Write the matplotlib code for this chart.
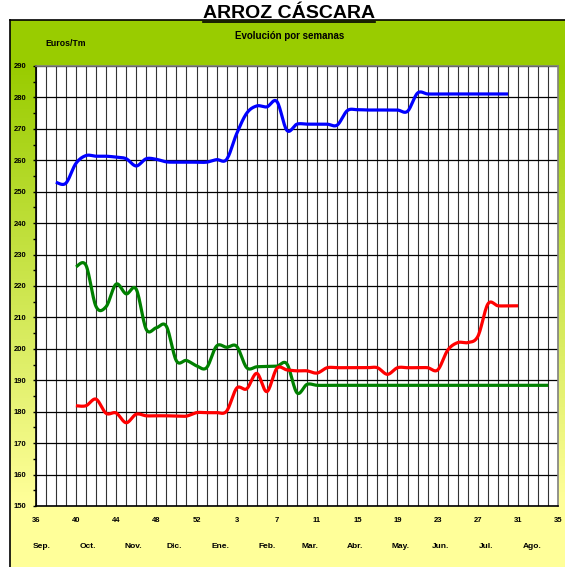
#Weekly paddy rice prices (Euros/Tm), three series, Excel-style chart.
import numpy as np
import matplotlib.pyplot as plt
import matplotlib.transforms as mtransforms
from matplotlib.lines import Line2D

plt.rcParams['font.family'] = ['Liberation Sans', 'DejaVu Sans']
plt.rcParams['font.weight'] = 'bold'

#Week labels along the x axis (campaign from week 36 to week 35, 53-week year).
weeks = list(range(36, 54)) + list(range(1, 36))
week_ticks = [36, 40, 44, 48, 52, 3, 7, 11, 15, 19, 23, 27, 31, 35]
months = ['Sep.', 'Oct.', 'Nov.', 'Dic.', 'Ene.', 'Feb.', 'Mar.', 'Abr.',
          'May.', 'Jun.', 'Jul.', 'Ago.']
month_pos = [0.6, 5.2, 9.7, 13.8, 18.4, 23.0, 27.3, 31.8, 36.3, 40.3, 44.8, 49.4]

#Series values, one per week, starting at the given week index.
blue_start = 2
blue = [253, 252.7, 259, 261.5, 261.3, 261.3, 261, 260.5, 258.2, 260.5,
        260.3, 259.5, 259.4, 259.4, 259.4, 259.4, 260.2, 260.3, 268.5, 275,
        277.3, 277, 278.7, 269.5, 271.5, 271.5, 271.5, 271.5, 271.2, 275.8,
        276.1, 276, 276, 276, 276, 275.6, 281.4, 281.1, 281.1, 281.1,
        281.1, 281.1, 281.1, 281.1, 281.1, 281.1]

green_start = 4
green = [226.1, 226.6, 213.5, 213.4, 220.6, 217.5, 219, 206.2, 206.7, 207.2,
         196.2, 196.3, 194.6, 194, 200.9, 200.5, 200.8, 194, 194.3, 194.4,
         194.5, 195.2, 186, 188.7] + [188.4] * 24

red_start = 4
red = [181.9, 181.9, 184, 179.5, 179.6, 176.5, 179.2, 178.7, 178.7, 178.7,
       178.6, 178.6, 179.7, 179.7, 179.7, 180.2, 187.5, 187.3, 192.2, 186.4,
       193.8, 193.3, 193, 193, 192.3, 194, 194, 194, 194, 194,
       194, 191.9, 194, 194, 194, 194, 193.3, 199.6, 202, 202,
       204, 214.3, 213.7, 213.7, 213.7]


def smooth(x, y, n=16):
    #Excel-like smoothed line: cubic Bezier through the points.
    x = np.asarray(x, float)
    y = np.asarray(y, float)
    px = np.concatenate([[x[0]], x, [x[-1]]])
    py = np.concatenate([[y[0]], y, [y[-1]]])
    t = np.linspace(0, 1, n)[:, None]
    xs, ys = [], []
    for k in range(1, len(px) - 2):
        p0 = np.array([px[k], py[k]])
        p3 = np.array([px[k + 1], py[k + 1]])
        c1 = p0 + (p3 - np.array([px[k - 1], py[k - 1]])) / 6
        c2 = p3 - (np.array([px[k + 2], py[k + 2]]) - p0) / 6
        pts = ((1 - t) ** 3) * p0 + 3 * ((1 - t) ** 2) * t * c1 \
            + 3 * (1 - t) * t ** 2 * c2 + t ** 3 * p3
        xs.append(pts[:, 0])
        ys.append(pts[:, 1])
    return np.concatenate(xs), np.concatenate(ys)


W, H = 565, 567
fig = plt.figure(figsize=(W / 100, H / 100), dpi=100)

#Green-to-yellow gradient panel behind the chart.
bg = fig.add_axes([10 / W, 0, 1 - 10 / W, 1 - 20 / H])
rows = np.arange(20, H)
frac = np.clip((rows - 66) / (500 - 66), 0, 1)
top = np.array([153, 204, 0]) / 255
bot = np.array([255, 255, 153]) / 255
grad = top[None, :] * (1 - frac[:, None]) + bot[None, :] * frac[:, None]
bg.imshow(grad[:, None, :], aspect='auto', extent=[0, 1, 0, 1])
bg.set_xticks([])
bg.set_yticks([])
for side in ['right', 'bottom']:
    bg.spines[side].set_visible(False)
for side in ['left', 'top']:
    bg.spines[side].set_color('black')
    bg.spines[side].set_linewidth(1.2)

ax = fig.add_axes([35.7 / W, 1 - 506 / H, (558.3 - 35.7) / W, (506 - 66) / H])
ax.set_facecolor('white')

for xs, vals, col in [(blue_start, blue, '#0000FF'),
                      (green_start, green, '#008000'),
                      (red_start, red, '#FF0000')]:
    idx = np.arange(xs, xs + len(vals))
    sx, sy = smooth(idx, vals)
    ax.plot(sx, sy, color=col, lw=2.3, solid_capstyle='butt', zorder=3)

ax.set_xlim(0, len(weeks) - 1)
ax.set_ylim(150, 290)

ax.set_xticks(range(len(weeks)), minor=True)
ax.set_xticks([weeks.index(w) for w in week_ticks])
ax.set_xticklabels([str(w) for w in week_ticks], fontsize=5.5,
                   fontweight='bold')
ax.tick_params(axis='x', which='both', length=0, pad=8)
ax.grid(axis='x', which='both', color='#333333', lw=0.8)

ax.set_yticks(np.arange(150, 291, 10))
ax.set_yticks(np.arange(155, 290, 10), minor=True)
ax.set_yticklabels([str(v) for v in range(150, 291, 10)], fontsize=5.5,
                   fontweight='bold')
ax.tick_params(axis='y', which='both', length=2.5, width=1, pad=4,
               direction='out')
ax.grid(axis='y', which='major', color='black', lw=0.9)
ax.set_axisbelow(True)

ax.spines['left'].set_color('black')
ax.spines['bottom'].set_color('black')
ax.spines['top'].set_color('#808080')
ax.spines['right'].set_color('#808080')
for s in ax.spines.values():
    s.set_linewidth(1.2)

#Month names under the week numbers.
trans = mtransforms.blended_transform_factory(ax.transData, fig.transFigure)
for m, p in zip(months, month_pos):
    fig.text(p, 1 - 546.6 / H, m, transform=trans, ha='center', va='center',
             fontsize=6, fontweight='bold')

fig.text(66 / W, 1 - 44 / H, 'Euros/Tm', ha='center', va='center',
         fontsize=6.3, fontweight='bold')
fig.text(290 / W, 1 - 36 / H, 'Evolución por semanas', ha='center',
         va='center', fontsize=7, fontweight='bold')
title = fig.text(289 / W, 1 - 13.5 / H, 'ARROZ CÁSCARA', ha='center',
                 va='center', fontsize=14, fontweight='bold')

#Underline the title.
fig.canvas.draw()
bb = title.get_window_extent()
fig.add_artist(Line2D([bb.x0 / W, bb.x1 / W], [1 - 21.5 / H, 1 - 21.5 / H],
                      color='black', lw=1.2, transform=fig.transFigure))

fig.savefig('out.png', dpi=100)
